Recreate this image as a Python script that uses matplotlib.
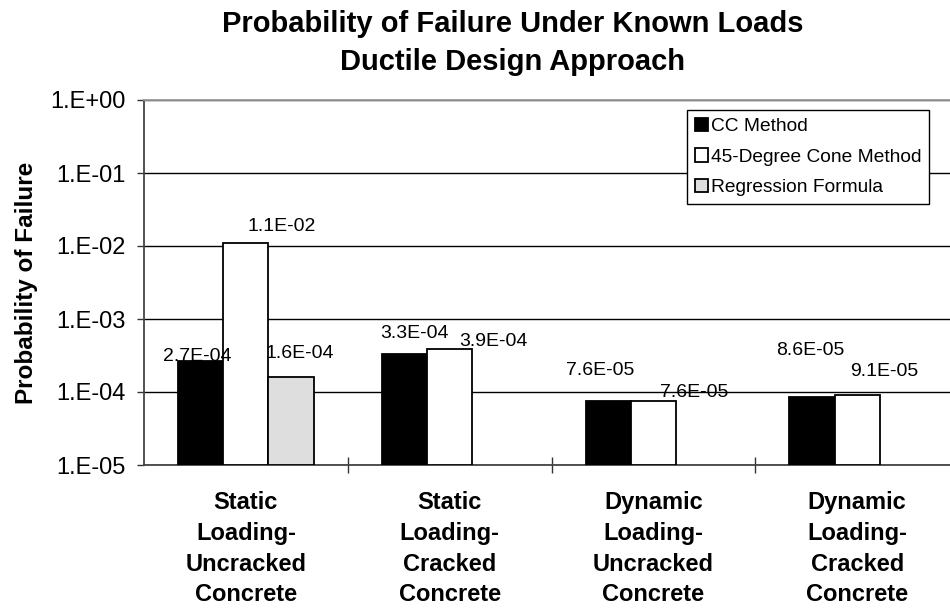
import numpy as np
import matplotlib.pyplot as plt
from matplotlib.ticker import FixedLocator, FuncFormatter, NullLocator

plt.rcParams['font.family'] = ['Liberation Sans', 'DejaVu Sans']

categories = ['Static\nLoading-\nUncracked\nConcrete',
              'Static\nLoading-\nCracked\nConcrete',
              'Dynamic\nLoading-\nUncracked\nConcrete',
              'Dynamic\nLoading-\nCracked\nConcrete']
series_names = ['CC Method', '45-Degree Cone Method', 'Regression Formula']
cc_method = [2.7e-4, 3.3e-4, 7.6e-5, 8.6e-5]
cone_method = [1.1e-2, 3.9e-4, 7.6e-5, 9.1e-5]
regression = [1.6e-4, None, None, None]
bar_labels = [['2.7E-04', '3.3E-04', '7.6E-05', '8.6E-05'],
              ['1.1E-02', '3.9E-04', '7.6E-05', '9.1E-05'],
              ['1.6E-04', None, None, None]]

# label placement (pixel offsets from bar top centre), mimics the original layout
label_offsets = [[(-3, 4), (10, 21), (-8, 30), (-2, 46)],
                 [(36, 16), (44, 7), (41, 8), (27, 23)],
                 [(9, 24), None, None, None]]

colors = ['black', 'white', '#dedede']
ymin = 1e-5

fig = plt.figure(figsize=(9.5, 6.1), dpi=100)
ax = fig.add_axes([144 / 950, 145 / 610, 815 / 950, 365 / 610])

w = 0.222
x = np.arange(len(categories))
all_series = [cc_method, cone_method, regression]
for j, (vals, col) in enumerate(zip(all_series, colors)):
    first = True
    for i, v in enumerate(vals):
        if v is None:
            continue
        xc = x[i] + (j - 1) * w
        ax.bar(xc, v - ymin, width=w, bottom=ymin, color=col,
               edgecolor='black', linewidth=1.3, zorder=3,
               label=series_names[j] if first else None)
        first = False
        dx, dy = label_offsets[j][i]
        ax.annotate(bar_labels[j][i], xy=(xc, v),
                    xytext=(dx, dy), textcoords='offset pixels',
                    ha='center', va='center', fontsize=14, zorder=4)

ax.set_yscale('log')
ax.set_ylim(ymin, 1)
ax.set_xlim(-0.5, len(categories) - 0.5)
ax.yaxis.set_major_locator(FixedLocator([10.0 ** e for e in range(-5, 1)]))
ax.yaxis.set_minor_locator(NullLocator())
ax.yaxis.set_major_formatter(FuncFormatter(lambda v, p: '1.E%+03d' % round(np.log10(v))))
ax.tick_params(axis='y', direction='out', length=5, width=1, labelsize=17, pad=8, color='#333333')

ax.set_xticks(x)
ax.set_xticklabels(categories, fontsize=17, fontweight='bold', linespacing=1.42)
ax.tick_params(axis='x', which='major', length=0, pad=19)
ax.set_xticks(np.arange(len(categories)) + 0.5, minor=True)
ax.tick_params(axis='x', which='minor', direction='inout', length=12, width=1, color='#333333')

ax.grid(axis='y', which='major', color='black', linewidth=1.0, zorder=0)
ax.set_axisbelow(True)
ax.spines['right'].set_visible(False)
ax.spines['top'].set_color('#999999')
ax.spines['left'].set_color('#444444')
ax.spines['bottom'].set_color('#444444')
for s in ['top', 'left', 'bottom']:
    ax.spines[s].set_linewidth(1.3)

ax.set_ylabel('Probability of Failure', fontsize=17.5, fontweight='bold')
ax.yaxis.set_label_coords(-0.13, 0.5)

fig.suptitle('Probability of Failure Under Known Loads\nDuctile Design Approach',
             fontsize=21, fontweight='bold', x=513 / 950, y=1 - 10 / 610, va='top',
             linespacing=1.45)

leg = ax.legend(loc='upper right', bbox_to_anchor=(929 / 950, 1 - 110 / 610),
                bbox_transform=fig.transFigure, fontsize=13.8, frameon=True,
                fancybox=False, edgecolor='black', framealpha=1, borderaxespad=0,
                handlelength=0.7, handleheight=0.7, handletextpad=0.15,
                borderpad=0.4, labelspacing=0.68)
leg.get_frame().set_linewidth(1.0)

fig.savefig('out.png', dpi=100)
